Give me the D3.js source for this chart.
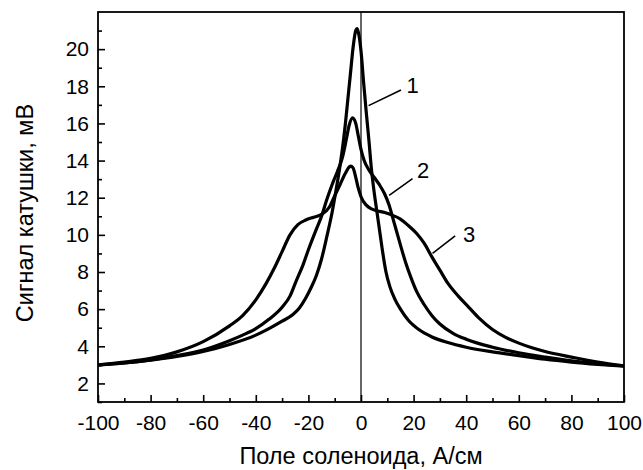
<!DOCTYPE html>
<html>
<head>
	<meta charset="utf-8">
	<title>Сигнал катушки</title>
	<script src="https://cdn.jsdelivr.net/npm/d3@7"></script>
	<style>
		body { margin: 0; background: #fff; }
		text { font-family: "Liberation Sans", Arial, sans-serif; fill: #000; }
	</style>
</head>
<body>
	<script>
		// Curve 1 (highest, narrowest peak)
		var x1 = [-100, -90, -80, -70, -60, -50, -40, -35, -30, -26, -23.5, -21, -19, -17, -15, -13, -11, -9.5, -8, -7, -6, -5, -4, -3, -2, -1.5, -1, 0, 1, 2, 3, 4, 5, 6, 7, 8, 9.5, 11, 13, 15, 18, 22, 27, 33, 40, 50, 60, 70, 80, 90, 100];
		var y1 = [3.0, 3.1, 3.25, 3.45, 3.72, 4.1, 4.6, 4.95, 5.35, 5.7, 6.05, 6.6, 7.15, 7.8, 8.7, 9.9, 11.2, 12.4, 13.7, 14.7, 15.9, 17.3, 18.7, 20.1, 21.0, 21.1, 20.9, 19.9, 18.2, 16.6, 15.1, 13.5, 12.3, 11.3, 10.3, 9.3, 8.0, 7.2, 6.5, 6.0, 5.4, 4.9, 4.5, 4.2, 3.95, 3.7, 3.5, 3.3, 3.15, 3.03, 2.93];

		// Curve 2
		var x2 = [-100, -90, -80, -70, -60, -50, -45, -40, -35, -30, -27, -24.7, -22, -20, -17, -15, -13, -11, -9, -7, -5.5, -4.5, -3.2, -2, -1, 0, 1.2, 3, 5, 7, 9, 10.7, 12.5, 14.5, 17, 19, 21, 24, 27, 30, 35, 40, 50, 60, 70, 80, 90, 100];
		var y2 = [2.98, 3.1, 3.27, 3.5, 3.8, 4.3, 4.6, 4.95, 5.45, 6.1, 6.7, 7.5, 8.4, 9.2, 10.3, 11.0, 11.9, 12.7, 13.4, 14.2, 15.2, 15.9, 16.3, 16.0, 15.3, 14.6, 14.0, 13.5, 13.1, 12.7, 12.2, 11.6, 10.7, 9.7, 8.5, 7.7, 7.0, 6.25, 5.65, 5.2, 4.7, 4.38, 3.95, 3.65, 3.42, 3.22, 3.06, 2.94];

		// Curve 3 (lowest peak with shoulders)
		var x3 = [-100, -90, -80, -70, -60, -50, -45, -40, -36, -33, -30, -27, -24, -21, -18, -15, -12, -10, -8, -6, -4.5, -3.8, -3, -2, -1, 0, 2, 4, 6, 9, 12, 15, 18, 21, 24, 27, 30, 33, 37, 41, 45, 50, 55, 60, 65, 70, 80, 90, 100];
		var y3 = [3.0, 3.15, 3.35, 3.7, 4.25, 5.1, 5.65, 6.5, 7.4, 8.2, 9.1, 10.0, 10.55, 10.8, 10.95, 11.1, 11.5, 12.1, 12.7, 13.3, 13.65, 13.7, 13.6, 13.1, 12.5, 12.05, 11.6, 11.4, 11.3, 11.2, 11.05, 10.85, 10.5, 10.1, 9.55, 8.8, 8.1, 7.4, 6.7, 6.1, 5.5, 4.9, 4.48, 4.17, 3.92, 3.72, 3.42, 3.15, 2.95];

		// Tick values
		var xMajor = [-100, -80, -60, -40, -20, 0, 20, 40, 60, 80, 100];
		var xMinor = [-90, -70, -50, -30, -10, 10, 30, 50, 70, 90];
		var yMajor = [2, 4, 6, 8, 10, 12, 14, 16, 18, 20];
		var yMinor = [1, 3, 5, 7, 9, 11, 13, 15, 17, 19, 21];

		// Curve labels: text, point on curve, end of leader, text position
		var labelText = ["1", "2", "3"];
		var labelFrom = [[2.9, 16.96], [10.7, 12.13], [27.2, 9.0]];
		var labelTo = [[15.2, 17.8], [19.6, 13.03], [35.8, 9.94]];
		var labelPos = [[17.3, 17.66], [21.3, 13.05], [38.8, 9.61]];

		var margin = {top: 12, right: 19, bottom: 68, left: 98},
		    width = 643 - margin.left - margin.right,
		    height = 470 - margin.top - margin.bottom;

		var svg = d3.select("body")
		  .append("svg")
		    .attr("width", 643)
		    .attr("height", 470);

		var g = svg.append("g")
		    .attr("transform", "translate(" + margin.left + "," + margin.top + ")");

		var x = d3.scaleLinear().domain([-100, 100]).range([0, width]);
		var y = d3.scaleLinear().domain([1, 22]).range([height, 0]);

		// Minor ticks (inside)
		g.append("g")
		    .attr("transform", "translate(0," + height + ")")
		    .call(d3.axisBottom(x).tickValues(xMinor).tickSize(-4).tickFormat(""))
		    .call(function(a) { a.select(".domain").remove(); });
		g.append("g")
		    .call(d3.axisLeft(y).tickValues(yMinor).tickSize(-4).tickFormat(""))
		    .call(function(a) { a.select(".domain").remove(); });

		// Major ticks with labels
		var xAxis = g.append("g")
		    .attr("transform", "translate(0," + height + ")")
		    .call(d3.axisBottom(x).tickValues(xMajor).tickSize(-7).tickPadding(13)
		      .tickFormat(function(d) { return String(d); }));
		xAxis.select(".domain").remove();
		xAxis.selectAll("text").style("font-size", "21px");

		var yAxis = g.append("g")
		    .call(d3.axisLeft(y).tickValues(yMajor).tickSize(-7).tickPadding(9));
		yAxis.select(".domain").remove();
		yAxis.selectAll("text").style("font-size", "21px");

		g.selectAll(".tick line").attr("stroke", "#000").attr("stroke-width", 1.6);

		// Vertical line at zero field
		g.append("line")
		    .attr("x1", x(0)).attr("x2", x(0))
		    .attr("y1", 0).attr("y2", height)
		    .attr("stroke", "#000")
		    .attr("stroke-width", 1.2);

		// Curves
		var line = d3.line()
		    .x(function(d) { return x(d[0]); })
		    .y(function(d) { return y(d[1]); })
		    .curve(d3.curveMonotoneX);

		[[x1, y1], [x2, y2], [x3, y3]].forEach(function(s) {
		  g.append("path")
		      .datum(d3.zip(s[0], s[1]))
		      .attr("fill", "none")
		      .attr("stroke", "#000")
		      .attr("stroke-width", 3.2)
		      .attr("stroke-linejoin", "round")
		      .attr("d", line);
		});

		// Leaders and curve numbers
		labelText.forEach(function(t, i) {
		  g.append("line")
		      .attr("x1", x(labelFrom[i][0])).attr("y1", y(labelFrom[i][1]))
		      .attr("x2", x(labelTo[i][0])).attr("y2", y(labelTo[i][1]))
		      .attr("stroke", "#000")
		      .attr("stroke-width", 1.6);
		  g.append("text")
		      .attr("x", x(labelPos[i][0]))
		      .attr("y", y(labelPos[i][1]))
		      .style("font-size", "22px")
		      .text(t);
		});

		// Frame
		g.append("rect")
		    .attr("width", width)
		    .attr("height", height)
		    .attr("fill", "none")
		    .attr("stroke", "#000")
		    .attr("stroke-width", 1.8);

		// Axis titles
		svg.append("text")
		    .attr("text-anchor", "middle")
		    .attr("x", margin.left + x(0))
		    .attr("y", 464)
		    .style("font-size", "23.5px")
		    .text("Поле соленоида, А/см");

		svg.append("text")
		    .attr("text-anchor", "middle")
		    .attr("transform", "translate(33," + 213 + ") rotate(-90)")
		    .style("font-size", "23.5px")
		    .text("Сигнал катушки, мВ");
	</script>
</body>
</html>
